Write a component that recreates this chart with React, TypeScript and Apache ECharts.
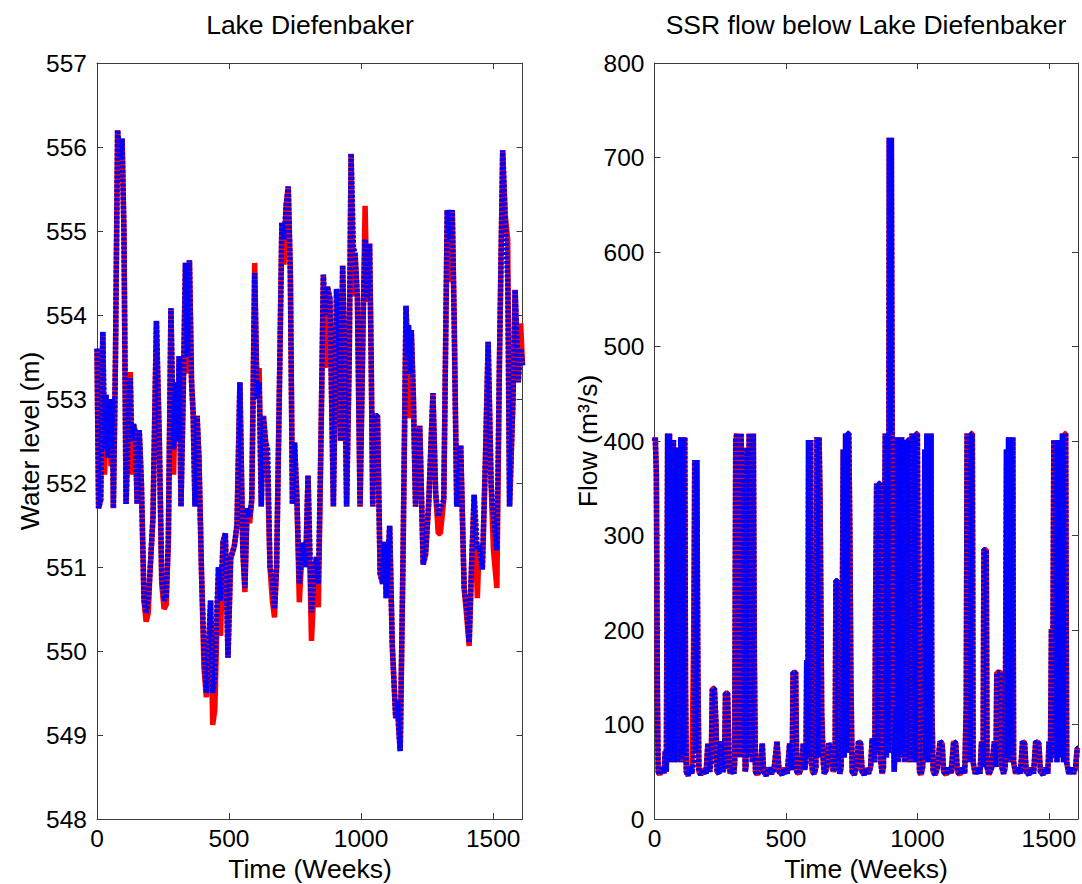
import React, { useEffect, useRef } from "react";
import * as echarts from "echarts";

// ---------- axis ticks ----------
const weekTicks = [0, 500, 1000, 1500];
const weekMax = 1611;
const levelTicks = [548, 549, 550, 551, 552, 553, 554, 555, 556, 557];
const flowTicks = [0, 100, 200, 300, 400, 500, 600, 700, 800];

// ---------- Lake Diefenbaker water level (m) ----------
const levelWeeks = [
  0, 6, 14, 22, 29, 34, 40, 46, 53, 58,
  62, 70, 78, 88, 95, 102, 110, 118, 126, 132,
  138, 145, 152, 160, 168, 178, 186, 194, 200, 212,
  225, 236, 245, 254, 262, 270, 280, 290, 298, 305,
  311, 318, 326, 335, 342, 350, 358, 364, 371, 379,
  386, 396, 405, 414, 422, 430, 438, 446, 454, 460,
  468, 477, 486, 496, 506, 520, 530, 541, 552, 560,
  568, 578, 586, 597, 606, 614, 622, 630, 638, 646,
  655, 664, 672, 680, 690, 700, 708, 716, 724, 732,
  740, 748, 757, 766, 778, 790, 799, 812, 825, 831,
  838, 848, 857, 865, 872, 882, 895, 907, 914, 922,
  930, 938, 945, 955, 962, 971, 977, 986, 996, 1008,
  1015, 1022, 1028, 1032, 1038, 1044, 1049, 1062, 1072, 1082,
  1088, 1095, 1108, 1118, 1131, 1138, 1142, 1148, 1159, 1170,
  1176, 1180, 1186, 1190, 1198, 1206, 1222, 1235, 1244, 1256,
  1272, 1282, 1292, 1300, 1313, 1326, 1336, 1345, 1352, 1362,
  1377, 1390, 1400, 1409, 1418, 1428, 1440, 1447, 1459, 1470,
  1481, 1492, 1501, 1514, 1524, 1536, 1545, 1555, 1562, 1575,
  1583, 1595, 1604, 1611,
];
// blue (dotted) series
const levelBlue = [
  553.6, 551.7, 551.8, 553.8, 552.4, 553.05, 552.3, 553.0, 552.4, 553.0,
  551.7, 553.5, 556.2, 555.85, 556.1, 555.0, 551.75, 552.6, 553.25, 552.5,
  552.7, 552.6, 551.75, 552.63, 552.0, 550.6, 550.45, 550.6, 550.9, 551.6,
  553.93, 552.5, 550.9, 550.6, 550.65, 551.3, 554.08, 552.4, 553.2, 552.5,
  553.51, 551.72, 553.0, 554.62, 553.5, 554.65, 553.2, 552.83, 551.72, 552.8,
  552.3, 550.9, 550.0, 549.5, 550.0, 550.6, 549.5, 549.7, 550.5, 551.0,
  550.6, 551.3, 551.4, 549.92, 551.1, 551.25, 551.5, 553.2, 551.2, 550.75,
  551.7, 551.6, 551.8, 554.5, 553.0, 553.2, 551.72, 552.8, 552.5, 552.4,
  551.0, 550.85, 550.5, 551.0, 553.0, 555.1, 554.9, 555.3, 555.53, 554.5,
  551.75, 552.48, 551.8, 550.8, 551.29, 551.0, 552.09, 550.46, 551.0, 551.12,
  550.8, 552.5, 554.48, 554.0, 554.34, 554.19, 551.72, 554.31, 554.0, 552.5,
  554.59, 553.5, 551.72, 553.5, 555.92, 554.8, 554.73, 554.19, 551.72, 554.0,
  554.9, 554.2, 554.4, 554.85, 553.5, 551.72, 552.8, 552.8, 550.92, 550.8,
  551.3, 550.63, 551.49, 550.06, 549.2, 549.4, 549.09, 548.81, 551.2, 554.11,
  553.5, 553.88, 553.3, 553.82, 553.0, 551.72, 552.68, 551.03, 551.15, 551.77,
  553.07, 551.89, 551.6, 551.7, 551.8, 555.25, 554.9, 555.25, 554.0, 551.72,
  552.45, 550.75, 550.5, 550.1, 551.0, 551.86, 551.2, 551.26, 550.97, 552.2,
  553.68, 552.0, 551.6, 551.2, 553.5, 555.96, 555.2, 554.4, 551.72, 553.0,
  554.3, 553.2, 553.6, 553.4,
];
// red (solid) series
const levelRed = [
  553.6, 551.7, 551.8, 553.8, 552.1, 553.05, 552.3, 553.0, 552.2, 553.0,
  551.7, 553.5, 556.2, 555.6, 556.1, 555.0, 551.75, 552.6, 553.32, 552.1,
  552.7, 552.6, 551.75, 552.63, 552.0, 550.6, 550.35, 550.45, 550.9, 551.6,
  553.93, 552.5, 550.8, 550.5, 550.55, 551.3, 554.08, 552.1, 553.2, 552.5,
  553.51, 551.72, 553.0, 554.62, 553.3, 554.65, 553.2, 552.83, 551.72, 552.8,
  552.3, 550.9, 549.8, 549.45, 550.0, 550.6, 549.12, 549.3, 550.3, 551.0,
  550.18, 551.3, 551.4, 549.92, 551.1, 551.25, 551.5, 553.2, 551.2, 550.7,
  551.7, 551.52, 551.8, 554.62, 553.0, 553.37, 551.72, 552.8, 552.5, 552.1,
  551.0, 550.6, 550.4, 551.0, 553.0, 555.1, 554.6, 555.3, 555.53, 554.5,
  551.75, 552.48, 551.8, 550.58, 551.29, 551.0, 552.09, 550.12, 551.0, 551.12,
  550.52, 552.5, 554.48, 553.37, 554.34, 554.19, 551.72, 554.31, 553.74, 552.5,
  554.59, 553.5, 551.72, 553.5, 555.92, 554.22, 554.73, 554.19, 551.72, 554.0,
  555.3, 554.2, 554.17, 554.85, 553.5, 551.72, 552.8, 552.8, 550.92, 550.8,
  551.3, 550.63, 551.49, 550.06, 549.2, 549.4, 549.09, 548.81, 551.2, 554.11,
  553.5, 552.8, 552.8, 553.82, 553.0, 551.72, 552.68, 551.03, 551.15, 551.77,
  553.07, 551.89, 551.4, 551.4, 551.8, 555.25, 554.39, 555.25, 554.0, 551.72,
  552.45, 550.75, 550.4, 550.06, 551.0, 551.86, 550.63, 551.26, 550.97, 552.2,
  553.68, 552.0, 551.2, 550.75, 553.5, 555.96, 555.2, 554.9, 551.72, 553.0,
  554.3, 553.2, 553.9, 553.4,
];

// ---------- SSR flow below Lake Diefenbaker (m3/s) ----------
const flowWeeks = [
  0, 3, 7, 11, 14, 20, 28, 36, 41, 45,
  50, 54, 57, 61, 64, 68, 72, 76, 80, 84,
  86, 92, 96, 100, 104, 108, 112, 115, 118, 121,
  128, 136, 142, 149, 153, 157, 161, 165, 169, 176,
  186, 196, 203, 210, 216, 220, 228, 234, 238, 245,
  253, 260, 266, 270, 278, 284, 288, 295, 302, 305,
  309, 313, 317, 321, 325, 329, 333, 337, 340, 342,
  345, 348, 352, 356, 360, 364, 368, 372, 376, 380,
  384, 392, 401, 410, 415, 425, 435, 445, 455, 466,
  474, 485, 495, 505, 514, 520, 524, 527, 532, 537,
  541, 550, 558, 566, 571, 576, 579, 583, 586, 590,
  594, 598, 601, 608, 614, 618, 622, 626, 630, 636,
  642, 646, 655, 663, 672, 680, 687, 690, 695, 699,
  705, 710, 714, 718, 722, 727, 731, 735, 739, 743,
  747, 752, 760, 768, 776, 784, 790, 798, 806, 814,
  822, 828, 834, 838, 841, 845, 849, 853, 857, 861,
  866, 871, 874, 878, 882, 886, 890, 893, 897, 901,
  904, 907, 912, 918, 921, 924, 928, 932, 936, 940,
  944, 948, 952, 956, 960, 964, 968, 972, 976, 980,
  984, 988, 992, 996, 1000, 1004, 1008, 1014, 1020, 1025,
  1028, 1032, 1036, 1040, 1044, 1048, 1052, 1055, 1060, 1068,
  1076, 1086, 1094, 1100, 1110, 1120, 1128, 1138, 1146, 1152,
  1162, 1172, 1180, 1186, 1189, 1193, 1197, 1201, 1205, 1209,
  1212, 1220, 1230, 1238, 1244, 1250, 1253, 1258, 1262, 1265,
  1272, 1282, 1293, 1299, 1302, 1310, 1318, 1321, 1328, 1334,
  1336, 1339, 1343, 1347, 1351, 1355, 1359, 1363, 1366, 1374,
  1384, 1392, 1400, 1408, 1414, 1424, 1434, 1442, 1450, 1462,
  1468, 1478, 1488, 1496, 1501, 1506, 1510, 1514, 1519, 1523,
  1527, 1531, 1535, 1539, 1544, 1548, 1552, 1556, 1560, 1564,
  1568, 1576, 1586, 1594, 1602, 1608, 1611,
];
const flowBlue = [
  400, 404, 366, 133, 50, 47, 54, 48, 72, 50,
  408, 70, 408, 60, 401, 65, 401, 60, 393, 70,
  60, 391, 65, 404, 60, 404, 70, 404, 143, 50,
  46, 55, 48, 60, 380, 70, 380, 155, 50, 47,
  53, 48, 80, 50, 60, 138, 138, 100, 50, 48,
  82, 50, 55, 133, 133, 60, 48, 53, 48, 60,
  400, 408, 70, 408, 65, 408, 360, 70, 360, 163,
  50, 55, 393, 65, 408, 70, 408, 60, 408, 163,
  50, 47, 54, 80, 50, 46, 54, 48, 53, 82,
  50, 47, 54, 48, 80, 52, 60, 155, 155, 155,
  50, 48, 54, 80, 52, 60, 168, 70, 401, 65,
  401, 60, 50, 48, 55, 404, 65, 404, 335, 112,
  60, 48, 53, 80, 75, 50, 55, 252, 252, 60,
  48, 55, 200, 391, 65, 408, 70, 408, 408, 307,
  150, 50, 47, 54, 82, 80, 50, 47, 54, 48,
  55, 85, 80, 60, 224, 355, 70, 355, 355, 60,
  48, 55, 264, 408, 65, 408, 70, 721, 408, 721,
  408, 117, 50, 117, 70, 404, 60, 404, 65, 404,
  70, 401, 60, 401, 65, 401, 401, 60, 120, 408,
  65, 408, 60, 408, 408, 153, 50, 47, 55, 200,
  391, 65, 408, 60, 408, 70, 408, 117, 50, 47,
  54, 82, 80, 50, 47, 54, 48, 82, 80, 50,
  47, 54, 48, 120, 408, 65, 408, 60, 408, 408,
  60, 48, 54, 48, 82, 55, 285, 285, 285, 55,
  47, 54, 82, 55, 155, 155, 155, 55, 48, 55,
  200, 391, 65, 404, 60, 404, 70, 404, 60, 48,
  54, 48, 82, 80, 50, 47, 54, 48, 82, 80,
  50, 47, 54, 48, 82, 60, 201, 70, 401, 65,
  401, 60, 401, 70, 391, 65, 408, 60, 408, 408,
  60, 48, 54, 48, 55, 75, 75,
];
// weeks where the red series differs from the blue one: [week, flow]
const flowRedDiffs: [number, number][] = [
  [149, 193],
  [216, 70],
];

const FONT = '"Liberation Sans", Arial, Helvetica, sans-serif';
const AXIS = "#3c3c3c";
const RED = "#ff0000";
const BLUE = "#0000ff";

function pairs(xs: number[], ys: number[]) {
  return xs.map((x, i) => [x, ys[i]]);
}

function withDiffs(xs: number[], ys: number[], diffs: [number, number][]) {
  const m = new Map(diffs);
  return xs.map((x, i) => [x, m.has(x) ? (m.get(x) as number) : ys[i]]);
}

function axisCommon(labels: boolean, margin: number) {
  return {
    axisLine: { show: true, onZero: false, lineStyle: { color: AXIS, width: 1 } },
    axisTick: { show: true, inside: true, length: 6, lineStyle: { color: AXIS, width: 1 } },
    splitLine: { show: false },
    axisLabel: {
      show: labels,
      color: "#000",
      fontSize: 24.5,
      fontFamily: FONT,
      margin,
      formatter: (v: number) => String(v),
    },
  };
}

function xAxes(gridIndex: number) {
  const base = {
    type: "value",
    gridIndex,
    min: weekTicks[0],
    max: weekMax,
    interval: weekTicks[1] - weekTicks[0],
  };
  return [
    { ...base, position: "bottom", ...axisCommon(true, 7) },
    { ...base, position: "top", ...axisCommon(false, 7) },
  ];
}

function yAxes(gridIndex: number, ticks: number[]) {
  const base = {
    type: "value",
    gridIndex,
    min: ticks[0],
    max: ticks[ticks.length - 1],
    interval: ticks[1] - ticks[0],
  };
  return [
    { ...base, position: "left", ...axisCommon(true, 10) },
    { ...base, position: "right", ...axisCommon(false, 10) },
  ];
}

function lineSeries(data: number[][], xi: number, yi: number, blue: boolean) {
  return {
    type: "line",
    xAxisIndex: xi,
    yAxisIndex: yi,
    data,
    showSymbol: false,
    symbol: "none",
    silent: true,
    clip: true,
    z: blue ? 3 : 2,
    lineStyle: blue
      ? { color: BLUE, width: 5.5, type: [3, 1.5], join: "bevel" }
      : { color: RED, width: 5.5, type: "solid", join: "bevel" },
  };
}

function textEl(text: string, x: number, y: number, size: number, rotation = 0) {
  return {
    type: "text",
    x,
    y,
    rotation,
    silent: true,
    style: {
      text,
      fill: "#000",
      fontSize: size,
      fontFamily: FONT,
      align: "center",
      verticalAlign: "middle",
      textAlign: "center",
      textVerticalAlign: "middle",
    },
  };
}

export default function App() {
  const ref = useRef<HTMLDivElement>(null);

  useEffect(() => {
    if (!ref.current) return;
    const chart = echarts.init(ref.current, null, { renderer: "svg", width: 1082, height: 884 });
    const option = {
      animation: false,
      backgroundColor: "#ffffff",
      grid: [
        { left: 97, top: 63, width: 425.5, height: 756, containLabel: false },
        { left: 654.5, top: 63, width: 423.5, height: 756, containLabel: false },
      ],
      xAxis: [...xAxes(0), ...xAxes(1)],
      yAxis: [...yAxes(0, levelTicks), ...yAxes(1, flowTicks)],
      series: [
        lineSeries(pairs(levelWeeks, levelRed), 0, 0, false),
        lineSeries(pairs(levelWeeks, levelBlue), 0, 0, true),
        lineSeries(withDiffs(flowWeeks, flowBlue, flowRedDiffs), 2, 2, false),
        lineSeries(pairs(flowWeeks, flowBlue), 2, 2, true),
      ],
      graphic: [
        textEl("Lake Diefenbaker", 310, 25, 26.5),
        textEl("SSR flow below Lake Diefenbaker", 866, 25, 26.5),
        textEl("Time (Weeks)", 310, 869, 26.5),
        textEl("Time (Weeks)", 866, 869, 26.5),
        textEl("Water level (m)", 30, 441, 26.5, Math.PI / 2),
        textEl("Flow (m³/s)", 588, 441, 26.5, Math.PI / 2),
      ],
    };
    chart.setOption(option as any);
    return () => chart.dispose();
  }, []);

  return (
    <div
      ref={ref}
      style={{ position: "absolute", left: 0, top: 0, width: 1082, height: 884, background: "#fff" }}
    />
  );
}
